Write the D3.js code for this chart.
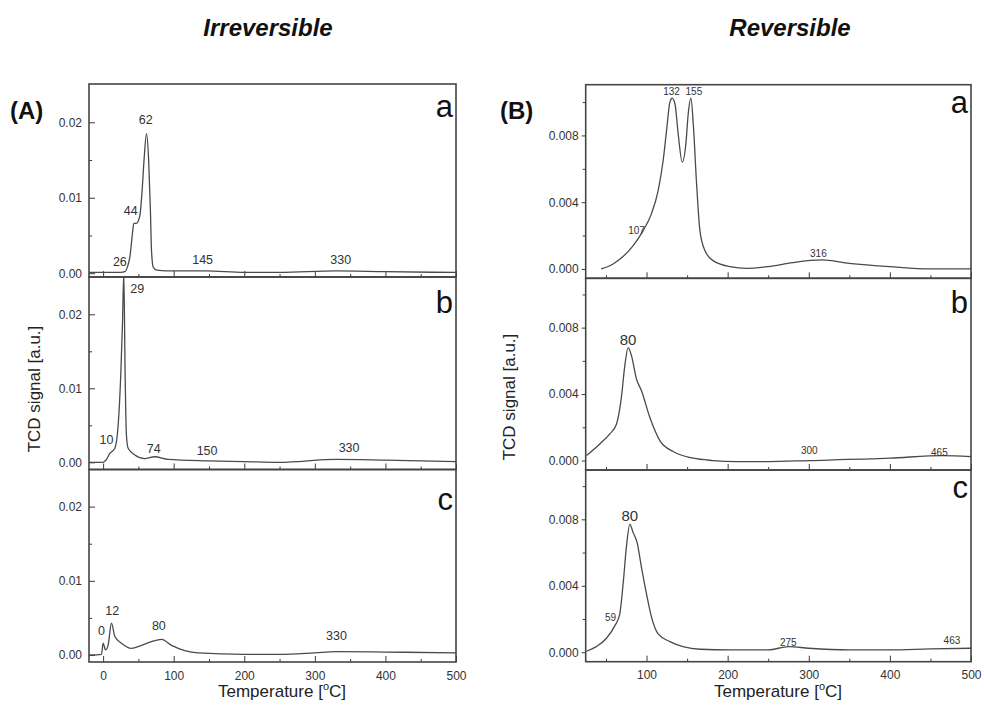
<!DOCTYPE html>
<html>
<head>
<meta charset="utf-8">
<title>TCD signal</title>
<script src="https://cdn.jsdelivr.net/npm/d3@7"></script>
<style>
body { margin: 0; background: #fff; }
text { font-family: "Liberation Sans", Arial, sans-serif; }
</style>
</head>
<body>
<script>
// curves: [temperature, signal]
var irrevA = [[-20,0.0001],[0,0.0001],[25,0.0001],[31,0.0002],[35,0.0010],[38,0.0022],[41.6,0.0053],[43.5,0.0066],[47,0.0066],[52,0.0076],
  [55,0.0106],[58,0.0150],[61.5,0.0185],[64.5,0.0150],[67,0.0084],[68.5,0.0031],[71,0.0008],[76,0.0004],[90,0.0003],[145,0.0003],
  [200,0.0001],[250,0.0001],[330,0.0003],[400,0.0002],[500,0.0001]];
var irrevB = [[-20,0],[0,0],[4.7,0.0004],[9.5,0.0012],[16.6,0.0019],[21.3,0.0050],[25,0.0118],[27.4,0.0186],[29.3,0.0256],[31.2,0.0118],
  [33,0.0037],[35.5,0.0019],[45,0.0010],[59,0.0005],[73,0.00075],[92,0.0004],[150,0.0002],[200,0.0001],[250,0],[330,0.0004],
  [400,0.0003],[500,0.0001]];
var irrevC = [[-20,0],[-2.3,0.0001],[0,0.0016],[3.4,0.0007],[7,0.0013],[11.8,0.0043],[16.6,0.0025],[26,0.0016],[40,0.0009],[54.4,0.0013],
  [68.5,0.0018],[82.7,0.0021],[97,0.0013],[115.7,0.0006],[134.6,0.0003],[200,0.0001],[250,0.0001],[300,0.0003],[330,0.00045],
  [400,0.0004],[500,0.0003]];
var revA = [[44,0],[58.8,0.0003],[71,0.00074],[83.5,0.0014],[95.8,0.0023],[106,0.0033],[114.3,0.0047],[120.5,0.0065],[124.7,0.0083],
  [128.8,0.0100],[131.6,0.01024],[135,0.0099],[139,0.0081],[144,0.0064],[148.5,0.0075],[151.4,0.0093],[154.7,0.01024],[157.6,0.0087],
  [161.7,0.0051],[165.8,0.0023],[172,0.0011],[182,0.0005],[203,0.00014],[223.5,0.00004],[250,0.00014],[280,0.00038],[316,0.00054],
  [350,0.00034],[400,0.00014],[450,0],[500,0]];
var revB = [[26,0.00030],[42.4,0.0010],[54.7,0.0016],[63,0.0022],[69,0.0038],[73.2,0.0057],[77.3,0.0068],[81.5,0.0063],[87.6,0.0049],
  [93.8,0.0042],[104,0.0026],[116.4,0.0012],[132.8,0.00054],[157.5,0.00014],[182,0],[211,-0.00006],[250,-0.00006],[300,0],
  [400,0.00014],[465,0.0003],[500,0.00024]];
var revC = [[26,0.00006],[38,0.00034],[50.6,0.00084],[61,0.0016],[67,0.0023],[71.1,0.0041],[75.3,0.0064],[79.4,0.0077],[83.5,0.0072],
  [88.4,0.0066],[93.8,0.0051],[100,0.0035],[106.2,0.0021],[114.3,0.0011],[128.8,0.00064],[145,0.00034],[165.8,0.00018],[203,0.00014],
  [250,0.00014],[275,0.00034],[300,0.00024],[350,0.00014],[400,0.00014],[450,0.0002],[500,0.00024]];

// peak labels: [text, temperature, signal] of the label anchor
var labelsIrrevA = [["26",23.7,0.00097],["44",39.2,0.0077],["62",60.5,0.0198],["145",141,0.0012],["330",336.7,0.0012]];
var labelsIrrevB = [["29",48.4,0.0229],["10",4.8,0.00254],["74",71.8,0.00126],["150",147.3,0.00105],["330",348.5,0.0014]];
var labelsIrrevC = [["0",-2.3,0.0027],["12",12.8,0.00546],["80",79,0.0034],["330",330.6,0.0020]];
var labelsRevA = [["132",130.8,0.0104],["155",158.4,0.0104],["107",87.6,0.0021],["316",311.9,0.00069]];
var labelsRevB = [["80",77.3,0.00693],["300",300.7,0.0004],["465",461,0.00028]];
var labelsRevC = [["80",79.4,0.0079],["59",55.5,0.0019],["275",274.8,0.00038],["463",476.5,0.00047]];

var irrevXTicks = [0,100,200,300,400,500];
var irrevXMinor = [50,150,250,350,450];
var irrevYTicks = [0,0.01,0.02];
var irrevYMinor = [0.005,0.015];
var revXTicks = [100,200,300,400,500];
var revXMinor = [50,150,250,350,450];
var revYTicks = [0,0.004,0.008];
var revYMinor = [0.002,0.006,0.010];

var width = 984, height = 707;
var svg = d3.select('body').append('svg').attr('width', width).attr('height', height);
var ink = '#3a3a3a';

function drawColumn(cfg) {
  var x = d3.scaleLinear().domain(cfg.xDomain).range([cfg.left, cfg.right]);
  cfg.panels.forEach(function(p, i) {
    var y = d3.scaleLinear().domain(p.yDomain).range([p.bottom, p.top]);
    var g = svg.append('g');
    var clipId = cfg.id + i;
    svg.append('clipPath').attr('id', clipId).append('rect')
      .attr('x', cfg.left).attr('y', p.top).attr('width', cfg.right - cfg.left).attr('height', p.bottom - p.top);

    // x ticks (inward)
    var xa = d3.axisTop(x).tickValues(cfg.xTicks).tickSize(6).tickFormat('');
    g.append('g').attr('transform', 'translate(0,' + p.bottom + ')').call(xa);
    var xm = d3.axisTop(x).tickValues(cfg.xMinor).tickSize(3).tickFormat('');
    g.append('g').attr('transform', 'translate(0,' + p.bottom + ')').call(xm);

    // y ticks
    var ya = (cfg.yInward ? d3.axisRight(y) : d3.axisLeft(y)).tickValues(cfg.yTicks).tickSize(cfg.yInward ? 6 : 4)
      .tickFormat(d3.format(cfg.yFormat));
    var yg = g.append('g').attr('transform', 'translate(' + cfg.left + ',0)').call(ya);
    if (cfg.yInward) {
      yg.selectAll('text').attr('x', -7).attr('text-anchor', 'end');
    }
    var ym = (cfg.yInward ? d3.axisRight(y) : d3.axisLeft(y)).tickValues(cfg.yMinor).tickSize(3).tickFormat('');
    g.append('g').attr('transform', 'translate(' + cfg.left + ',0)').call(ym);

    g.selectAll('.domain').remove();
    g.selectAll('.tick line').attr('stroke', ink).attr('stroke-width', 1);
    g.selectAll('.tick text').attr('font-size', 12).attr('fill', '#333')
      .style('font-family', '"Liberation Sans", Arial, sans-serif');

    if (i === cfg.panels.length - 1) {
      var xl = d3.axisBottom(x).tickValues(cfg.xTicks).tickSize(0).tickPadding(9);
      var xlg = svg.append('g').attr('transform', 'translate(0,' + p.bottom + ')').call(xl);
      xlg.select('.domain').remove();
      xlg.selectAll('text').attr('font-size', 12).attr('fill', '#333')
        .style('font-family', '"Liberation Sans", Arial, sans-serif');
    }

    // curve
    var line = d3.line().x(function(d) { return x(d[0]); }).y(function(d) { return y(d[1]); })
      .curve(d3.curveMonotoneX);
    g.append('path').datum(p.data).attr('d', line).attr('fill', 'none')
      .attr('stroke', '#4a4a4a').attr('stroke-width', 1.3).attr('clip-path', 'url(#' + clipId + ')');

    // peak labels
    g.selectAll('text.peak').data(p.labels).enter().append('text').attr('class', 'peak')
      .attr('x', function(d) { return x(d[1]); })
      .attr('y', function(d) { return y(d[2]); })
      .attr('text-anchor', 'middle')
      .attr('font-size', function(d) { return p.labelSize(d); })
      .attr('fill', '#333')
      .text(function(d) { return d[0]; });

    // frame
    g.append('rect').attr('x', cfg.left).attr('y', p.top)
      .attr('width', cfg.right - cfg.left).attr('height', p.bottom - p.top)
      .attr('fill', 'none').attr('stroke', '#444').attr('stroke-width', 1.6);

    // panel letter
    g.append('text').attr('x', cfg.right - 3).attr('y', p.letterY).attr('text-anchor', 'end')
      .attr('font-size', 31).attr('fill', '#111').text(p.letter);
  });

  // titles and labels
  svg.append('text').attr('x', cfg.titleX).attr('y', 36).attr('text-anchor', 'middle')
    .attr('font-size', 24).attr('font-weight', 'bold').attr('font-style', 'italic').attr('fill', '#111')
    .text(cfg.title);
  svg.append('text').attr('x', cfg.tagX).attr('y', 119).attr('font-size', 24).attr('font-weight', 'bold')
    .attr('fill', '#111').text(cfg.tag);
  svg.append('text').attr('transform', 'translate(' + cfg.yLabelX + ',' + cfg.yLabelY + ') rotate(-90)')
    .attr('text-anchor', 'middle').attr('font-size', 17).attr('fill', '#222').text('TCD signal [a.u.]');
  var xt = svg.append('text').attr('x', cfg.xLabelX).attr('y', 697).attr('text-anchor', 'middle')
    .attr('font-size', 17).attr('fill', '#222');
  xt.append('tspan').text('Temperature [');
  xt.append('tspan').attr('font-size', 11).attr('dy', -7).text('o');
  xt.append('tspan').attr('dy', 7).text('C]');
}

function small(d) { return 10; }
function medium(d) { return 12.5; }
function revBig(d) { return d[0] === '80' ? 15 : 10; }

drawColumn({
  id: 'clipA', title: 'Irreversible', titleX: 268, tag: '(A)', tagX: 10,
  xDomain: [-20, 500], left: 89, right: 456,
  xTicks: irrevXTicks, xMinor: irrevXMinor, yTicks: irrevYTicks, yMinor: irrevYMinor,
  yFormat: '.2f', yInward: true,
  yLabelX: 40, yLabelY: 389, xLabelX: 282,
  panels: [
    { top: 84, bottom: 277, yDomain: [-0.0005, 0.02507], data: irrevA, labels: labelsIrrevA, labelSize: medium, letter: 'a', letterY: 117 },
    { top: 277, bottom: 469.5, yDomain: [-0.00097, 0.02504], data: irrevB, labels: labelsIrrevB, labelSize: medium, letter: 'b', letterY: 313 },
    { top: 469.5, bottom: 662, yDomain: [-0.00094, 0.0250], data: irrevC, labels: labelsIrrevC, labelSize: medium, letter: 'c', letterY: 510 }
  ]
});

drawColumn({
  id: 'clipB', title: 'Reversible', titleX: 790, tag: '(B)', tagX: 500,
  xDomain: [25, 500], left: 585.7, right: 971,
  xTicks: revXTicks, xMinor: revXMinor, yTicks: revYTicks, yMinor: revYMinor,
  yFormat: '.3f', yInward: false,
  yLabelX: 515, yLabelY: 397, xLabelX: 778,
  panels: [
    { top: 84.7, bottom: 278.3, yDomain: [-0.00056, 0.01104], data: revA, labels: labelsRevA, labelSize: small, letter: 'a', letterY: 113 },
    { top: 278.3, bottom: 470, yDomain: [-0.00057, 0.01097], data: revB, labels: labelsRevB, labelSize: revBig, letter: 'b', letterY: 313 },
    { top: 470, bottom: 661.7, yDomain: [-0.00057, 0.01097], data: revC, labels: labelsRevC, labelSize: revBig, letter: 'c', letterY: 498 }
  ]
});
</script>
</body>
</html>
